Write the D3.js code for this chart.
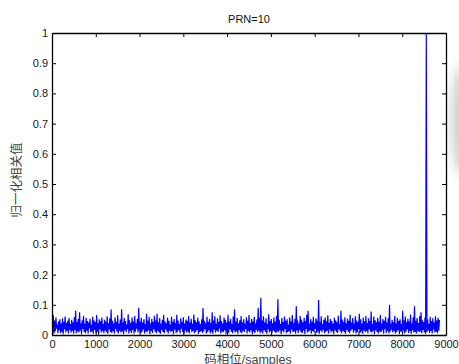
<!DOCTYPE html>
<html>
<head>
<meta charset="utf-8">
<script src="https://cdn.jsdelivr.net/npm/d3@7"></script>
<style>
  html, body { margin: 0; padding: 0; background: #fff; }
  svg { display: block; }
  .tick text { font-family: "Liberation Sans", Arial, sans-serif; font-size: 11px; fill: #1a1a1a; }
</style>
</head>
<body>
<svg id="chart" width="459" height="364"></svg>
<script>
// Normalised correlation against code phase, one value every 15 samples
const sampleStep = 15;
const corrValues = [
  .100,.010,.066,.004,.048,.012,.058,.021,.035,.007,.045,.016,.052,.006,.038,.011,.055,.003,.043,.019,
  .061,.009,.040,.014,.047,.005,.056,.018,.036,.008,.050,.013,.042,.004,.059,.017,.080,.006,.044,.012,
  .053,.008,.075,.015,.039,.003,.049,.020,.064,.010,.037,.006,.057,.014,.046,.005,.041,.022,.054,.009,
  .034,.012,.060,.004,.048,.017,.043,.007,.066,.011,.039,.002,.052,.019,.045,.008,.058,.013,.036,.006,
  .050,.015,.044,.009,.062,.004,.040,.018,.055,.010,.084,.007,.047,.013,.038,.005,.059,.020,.043,.011,
  .065,.006,.037,.014,.051,.008,.085,.012,.042,.003,.056,.016,.046,.009,.035,.019,.069,.005,.049,.013,
  .040,.007,.058,.017,.045,.004,.063,.011,.038,.021,.053,.008,.090,.014,.044,.006,.057,.010,.041,.018,
  .052,.005,.036,.012,.070,.009,.047,.016,.060,.003,.039,.013,.054,.007,.043,.020,.064,.011,.048,.006,
  .070,.014,.042,.008,.056,.004,.037,.017,.050,.010,.066,.006,.045,.019,.039,.012,.058,.005,.047,.015,
  .035,.009,.061,.013,.044,.003,.053,.018,.040,.007,.067,.011,.048,.016,.036,.006,.055,.021,.043,.010,
  .059,.004,.038,.015,.051,.008,.046,.012,.063,.005,.041,.019,.054,.009,.037,.014,.068,.006,.049,.011,
  .042,.017,.057,.003,.045,.010,.036,.013,.052,.007,.089,.012,.047,.020,.039,.005,.060,.009,.044,.016,
  .053,.006,.040,.011,.075,.004,.048,.018,.062,.008,.037,.014,.055,.010,.043,.021,.065,.005,.046,.012,
  .038,.009,.058,.016,.050,.003,.041,.013,.067,.007,.045,.019,.054,.011,.036,.006,.061,.015,.085,.008,
  .044,.012,.056,.004,.039,.017,.049,.009,.063,.006,.042,.014,.052,.010,.037,.020,.059,.005,.047,.013,
  .066,.008,.040,.016,.053,.003,.045,.011,.060,.007,.038,.018,.051,.009,.090,.014,.057,.006,.123,.012,
  .048,.005,.062,.017,.041,.010,.055,.004,.036,.019,.069,.008,.046,.013,.053,.006,.039,.015,.058,.011,
  .044,.007,.064,.012,.118,.009,.050,.016,.037,.003,.056,.014,.043,.008,.061,.020,.047,.006,.052,.010,
  .035,.013,.059,.005,.045,.018,.066,.009,.040,.012,.054,.004,.095,.015,.048,.007,.038,.017,.063,.010,
  .051,.006,.042,.014,.057,.003,.046,.019,.068,.008,.080,.011,.037,.016,.053,.005,.044,.013,.060,.009,
  .039,.020,.055,.007,.047,.012,.116,.004,.043,.015,.062,.009,.036,.017,.050,.006,.058,.011,.045,.014,
  .065,.005,.040,.018,.053,.008,.046,.013,.038,.003,.057,.016,.049,.010,.042,.007,.064,.019,.036,.012,
  .080,.006,.051,.014,.044,.009,.059,.004,.039,.017,.054,.011,.047,.006,.067,.013,.041,.020,.056,.008,
  .037,.015,.062,.005,.048,.010,.043,.018,.070,.007,.052,.012,.038,.004,.058,.016,.045,.009,.063,.013,
  .040,.006,.055,.019,.046,.011,.078,.008,.036,.014,.061,.003,.049,.017,.042,.010,.057,.005,.044,.012,
  .066,.009,.038,.016,.053,.004,.047,.020,.060,.007,.041,.013,.055,.006,.100,.011,.037,.018,.050,.008,
  .043,.014,.064,.005,.039,.010,.057,.017,.046,.003,.052,.012,.036,.009,.080,.015,.048,.006,.061,.011,
  .042,.019,.054,.007,.045,.013,.068,.004,.038,.016,.059,.008,.095,.010,.047,.005,.056,.014,.040,.009,
  .063,.012,.075,.006,.049,.017,.043,.008,.058,.004,1.000,.010,.052,.015,.037,.007,.060,.013,.046,.005,
  .055,.018,.041,.009,.062,.011,.048,.006,.057,.014,.050
];
const xTickValues = [0, 1000, 2000, 3000, 4000, 5000, 6000, 7000, 8000, 9000];
const yTickValues = [0, 0.1, 0.2, 0.3, 0.4, 0.5, 0.6, 0.7, 0.8, 0.9, 1];
const titleText = "PRN=10";
const xLabelText = "码相位/samples";
const yLabelText = "归一化相关值";

const svg = d3.select("#chart");
const margin = { left: 52, top: 33, right: 13, bottom: 29 };
const W = 459, H = 364;
const innerW = W - margin.left - margin.right;
const innerH = H - margin.top - margin.bottom;

// soft grey shading along the right edge of the page
const defs = svg.append("defs");
const blur = defs.append("filter").attr("id", "soft").attr("x", "-50%").attr("y", "-50%").attr("width", "200%").attr("height", "200%");
blur.append("feGaussianBlur").attr("stdDeviation", 6);
svg.append("ellipse")
  .attr("cx", 463).attr("cy", 120).attr("rx", 11).attr("ry", 55)
  .attr("fill", "#999").attr("opacity", 0.5).attr("filter", "url(#soft)");

const g = svg.append("g").attr("transform", `translate(${margin.left},${margin.top})`);

const x = d3.scaleLinear().domain([0, 9000]).range([0, innerW]);
const y = d3.scaleLinear().domain([0, 1]).range([innerH, 0]);

defs.append("clipPath").attr("id", "plotClip")
  .append("rect").attr("x", 0).attr("y", -1).attr("width", innerW).attr("height", innerH + 1);

g.append("rect").attr("width", innerW).attr("height", innerH).attr("fill", "#fff");

const line = d3.line()
  .x((d, i) => x(i * sampleStep))
  .y(d => y(d));

g.append("path")
  .datum(corrValues)
  .attr("clip-path", "url(#plotClip)")
  .attr("fill", "none")
  .attr("stroke", "#0000ff")
  .attr("stroke-width", 1.2)
  .attr("d", line);

// boxed axes with inward ticks
const fmtY = d => d === 0 ? "0" : d === 1 ? "1" : d3.format(".1f")(d);
g.append("g").attr("transform", `translate(0,${innerH})`)
  .call(d3.axisBottom(x).tickValues(xTickValues).tickSize(-4).tickSizeOuter(0).tickPadding(5).tickFormat(d3.format("d")));
g.append("g")
  .call(d3.axisLeft(y).tickValues(yTickValues).tickSize(-4).tickSizeOuter(0).tickPadding(4).tickFormat(fmtY));
g.append("g")
  .call(d3.axisTop(x).tickValues(xTickValues).tickSize(-4).tickSizeOuter(0).tickFormat(""));
g.append("g").attr("transform", `translate(${innerW},0)`)
  .call(d3.axisRight(y).tickValues(yTickValues).tickSize(-4).tickSizeOuter(0).tickFormat(""));

g.selectAll(".domain").attr("stroke", "#000").attr("stroke-width", 1.3);
g.selectAll(".tick line").attr("stroke", "#000").attr("stroke-width", 1);

svg.append("text")
  .attr("x", margin.left + innerW / 2).attr("y", 23)
  .attr("text-anchor", "middle")
  .attr("font-family", "'Liberation Sans', Arial, sans-serif")
  .attr("font-size", 11).attr("fill", "#111")
  .text(titleText);

svg.append("text")
  .attr("x", margin.left + innerW / 2 - 1).attr("y", 364)
  .attr("text-anchor", "middle")
  .attr("font-family", "'Liberation Sans', 'Noto Sans CJK SC', sans-serif")
  .attr("font-size", 12.5).attr("fill", "#444")
  .text(xLabelText);

svg.append("text")
  .attr("transform", `translate(21,${margin.top + innerH / 2 - 4}) rotate(-90)`)
  .attr("text-anchor", "middle")
  .attr("font-family", "'Noto Sans CJK SC', sans-serif")
  .attr("font-size", 12.5).attr("fill", "#444")
  .text(yLabelText);
</script>
</body>
</html>
